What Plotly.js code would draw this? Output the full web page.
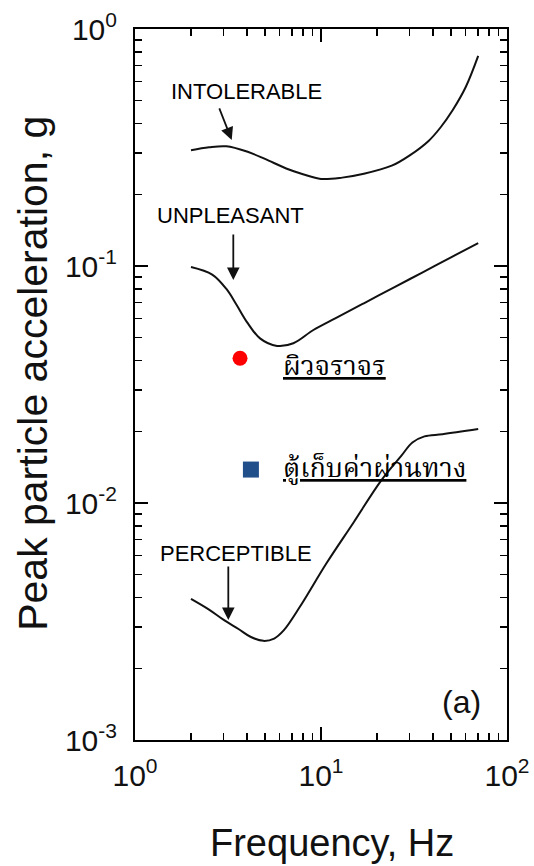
<!DOCTYPE html>
<html>
<head>
<meta charset="utf-8">
<script src="https://cdn.plot.ly/plotly-3.0.1.min.js"></script>
<style>html,body{margin:0;padding:0;background:#fff;}#chart{width:534px;height:866px;}</style>
</head>
<body>
<div id="chart"></div>
<script>
// Frequency (Hz) and peak particle acceleration (g) for each threshold curve
const intolerableFreq = [2.0, 2.5, 3.1, 4.0, 5.0, 6.5, 8.0, 10, 13, 17, 24, 30, 38, 44, 51, 60, 70];
const intolerableAcc  = [0.308, 0.317, 0.320, 0.304, 0.283, 0.258, 0.244, 0.233, 0.236, 0.245, 0.265, 0.293, 0.338, 0.385, 0.454, 0.569, 0.77];

const unpleasantFreq = [2.0, 2.6, 3.1, 3.5, 4.0, 4.7, 5.8, 7.1, 9.1, 12, 17, 25, 35, 50, 70];
const unpleasantAcc  = [0.099, 0.092, 0.080, 0.069, 0.058, 0.0495, 0.046, 0.0472, 0.0537, 0.0603, 0.0696, 0.0817, 0.0938, 0.1088, 0.125];

const perceptibleFreq = [2.0, 2.5, 3.0, 3.6, 4.2, 4.9, 5.6, 6.3, 7.7, 10.7, 15, 21, 27, 31, 36, 45, 70];
const perceptibleAcc  = [0.00394, 0.00355, 0.00321, 0.00294, 0.00272, 0.00262, 0.00268, 0.0029, 0.00365, 0.00557, 0.0083, 0.0124, 0.0158, 0.0180, 0.0191, 0.0195, 0.0205];

// Measured points
const roadSurfaceFreq = [3.67];
const roadSurfaceAcc  = [0.0408];
const tollBoothFreq = [4.2];
const tollBoothAcc  = [0.01384];

// Tick labels
const xTickVals = [1, 10, 100];
const xTickText = ['10<sup>0</sup>', '10<sup>1</sup>', '10<sup>2</sup>'];
const yTickVals = [0.001, 0.01, 0.1, 1];
const yTickText = ['10<sup>-3</sup>', '10<sup>-2</sup>', '10<sup>-1</sup>', '10<sup>0</sup>'];
const xMinor = [2,3,4,5,6,7,8,9,20,30,40,50,60,70,80,90];
const yMinor = [0.002,0.003,0.004,0.005,0.006,0.007,0.008,0.009,0.02,0.03,0.04,0.05,0.06,0.07,0.08,0.09,0.2,0.3,0.4,0.5,0.6,0.7,0.8,0.9];

const curveLine = {color: '#111', width: 2, shape: 'spline', smoothing: 1.0};
const sans = 'Liberation Sans, Arial, sans-serif';
const thai = 'Angsana New, Noto Serif Thai, Noto Sans Thai, Loma, Garuda, Norasi, serif';

const traces = [
  {x: intolerableFreq, y: intolerableAcc, mode: 'lines', line: curveLine, name: 'INTOLERABLE'},
  {x: unpleasantFreq, y: unpleasantAcc, mode: 'lines', line: curveLine, name: 'UNPLEASANT'},
  {x: perceptibleFreq, y: perceptibleAcc, mode: 'lines', line: curveLine, name: 'PERCEPTIBLE'},
  {x: roadSurfaceFreq, y: roadSurfaceAcc, mode: 'markers', marker: {symbol: 'circle', size: 15, color: '#ff0000'}, name: 'ผิวจราจร'},
  {x: tollBoothFreq, y: tollBoothAcc, mode: 'markers', marker: {symbol: 'square', size: 16, color: '#214f8a'}, name: 'ตู้เก็บค่าผ่านทาง'}
];

const axisCommon = {
  type: 'log', showgrid: false, zeroline: false,
  showline: true, linecolor: '#000', linewidth: 2, mirror: 'ticks',
  ticks: 'inside', ticklen: 13, tickwidth: 1.5, tickcolor: '#000',
  tickmode: 'array', tickfont: {family: sans, size: 30, color: '#111'},
  minor: {ticks: 'inside', ticklen: 7, tickwidth: 1.5, tickcolor: '#000', tickmode: 'array'}
};

const layout = {
  width: 534, height: 866,
  margin: {l: 135, r: 27, t: 29, b: 126},
  paper_bgcolor: '#fff', plot_bgcolor: '#fff',
  showlegend: false,
  xaxis: Object.assign({}, axisCommon, {range: [0, 2], tickvals: xTickVals, ticktext: xTickText, ticklabelstandoff: 8,
    minor: Object.assign({}, axisCommon.minor, {tickvals: xMinor})}),
  yaxis: Object.assign({}, axisCommon, {range: [-3, 0], tickvals: yTickVals, ticktext: yTickText, ticklabelstandoff: 10,
    minor: Object.assign({}, axisCommon.minor, {tickvals: yMinor})}),
  annotations: [
    {xref: 'paper', yref: 'paper', x: 0.53, y: -0.145, text: 'Frequency, Hz', showarrow: false,
     xanchor: 'center', yanchor: 'middle', font: {family: sans, size: 38, color: '#111'}},
    {xref: 'paper', yref: 'paper', x: -0.275, y: 0.516, text: 'Peak particle acceleration, g', showarrow: false,
     textangle: -90, xanchor: 'center', yanchor: 'middle', font: {family: sans, size: 41, color: '#111'}},
    {x: 0.6005, y: -0.2616, text: 'INTOLERABLE', showarrow: false, font: {family: sans, size: 22, color: '#000'}},
    {x: 0.5108, y: -0.7848, text: 'UNPLEASANT', showarrow: false, font: {family: sans, size: 22, color: '#000'}},
    {x: 0.5403, y: -2.211, text: 'PERCEPTIBLE', showarrow: false, font: {family: sans, size: 22, color: '#000'}},
    {x: 0.520, y: -0.468, ax: -13, ay: -33, text: '', showarrow: true, arrowhead: 2, arrowsize: 1.4, arrowwidth: 1.8, arrowcolor: '#111'},
    {x: 0.5285, y: -1.059, ax: 0, ay: -47, text: '', showarrow: true, arrowhead: 2, arrowsize: 1.4, arrowwidth: 1.8, arrowcolor: '#111'},
    {x: 0.5016, y: -2.494, ax: 0, ay: -55, text: '', showarrow: true, arrowhead: 2, arrowsize: 1.4, arrowwidth: 1.8, arrowcolor: '#111'},
    {x: 1.7527, y: -2.8397, text: '(a)', showarrow: false, font: {family: sans, size: 32, color: '#111'}},
    {x: 0.785, y: -1.43, text: 'ผิวจราจร', showarrow: false, xanchor: 'left', yanchor: 'middle',
     font: {family: thai, size: 27, color: '#000', lineposition: 'under'}},
    {x: 0.785, y: -1.859, text: 'ตู้เก็บค่าผ่านทาง', showarrow: false, xanchor: 'left', yanchor: 'middle',
     font: {family: thai, size: 27, color: '#000', lineposition: 'under'}}
  ]
};

Plotly.newPlot('chart', traces, layout, {staticPlot: true, displayModeBar: false});
</script>
</body>
</html>
